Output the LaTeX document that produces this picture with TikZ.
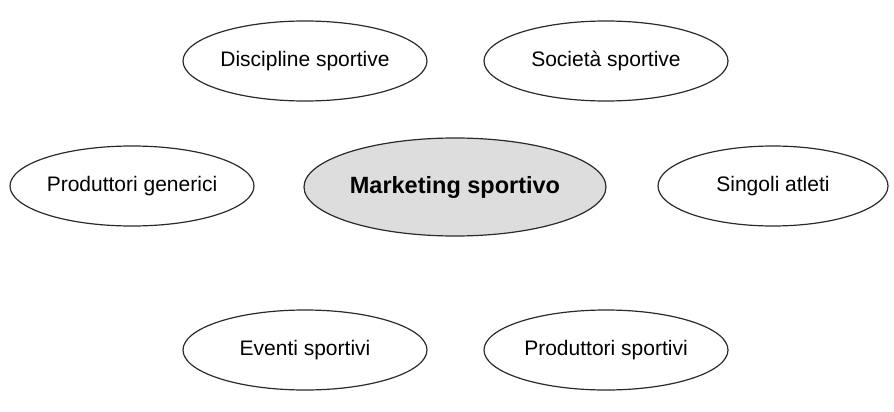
\documentclass[tikz,border=0pt]{standalone}
\usepackage{fontspec}
\setmainfont{Liberation Sans}
\usetikzlibrary{shapes.geometric}
\definecolor{rimgray}{HTML}{2A2A2A}
\definecolor{hubgray}{HTML}{DDDDDD}
\begin{document}
\begin{tikzpicture}[x=1pt,y=-1pt,
  topic/.style={draw=rimgray, line width=1.2pt, ellipse, inner sep=0pt,
    minimum width=244pt, minimum height=80pt, font=\fontsize{21}{25}\selectfont},
  hub/.style={topic, fill=hubgray, minimum width=302pt, minimum height=98pt,
    font=\fontsize{23.5}{28}\selectfont\bfseries}]
  \useasboundingbox (0,0) rectangle (894,412);
  \node[topic] (disc) at (305,61) {Discipline sportive};
  \node[topic] (soc)  at (606,61) {Società sportive};
  \node[topic] (gen)  at (132,186) {Produttori generici};
  \node[hub]   (mkt)  at (455,187) {Marketing sportivo};
  \node[topic, minimum width=230pt] (atl) at (773,186) {Singoli atleti};
  \node[topic] (evt)  at (305,350) {Eventi sportivi};
  \node[topic] (prod) at (606,350) {Produttori sportivi};
\end{tikzpicture}
\end{document}
